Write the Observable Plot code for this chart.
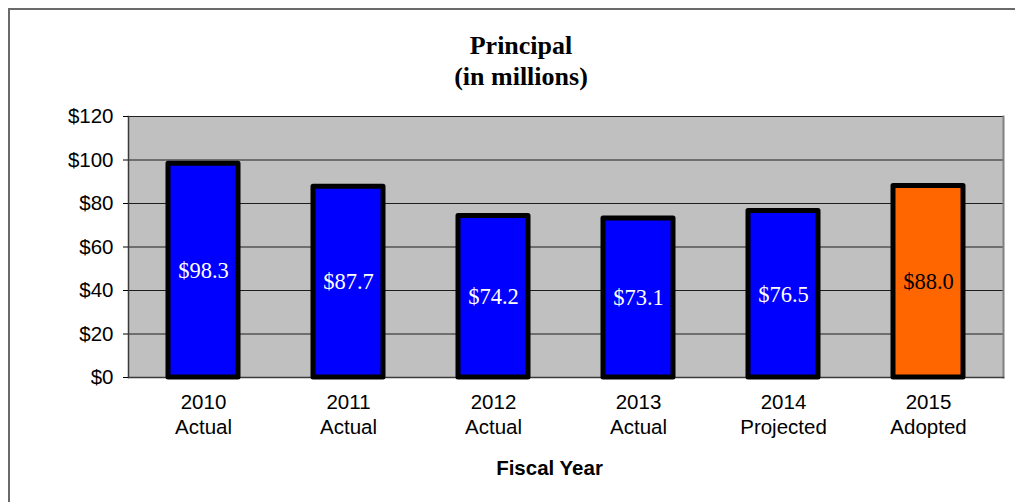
<!DOCTYPE html>
<html>
<head>
<meta charset="utf-8">
<script src="https://cdn.jsdelivr.net/npm/d3@7"></script>
<script src="https://cdn.jsdelivr.net/npm/@observablehq/plot@0.6"></script>
<style>
  html, body { margin: 0; padding: 0; background: #fff; }
  body { position: relative; width: 1015px; height: 502px; overflow: hidden; }
  #border { position: absolute; left: 8px; top: 8px; width: 2000px; height: 2000px;
    border-left: 2px solid #6a6a6a; border-top: 2px solid #6a6a6a; box-sizing: border-box; }
  #title { position: relative; height: 100px; width: 1042px; box-sizing: border-box; padding-top: 30px;
    text-align: center; font-family: "Liberation Serif", "Times New Roman", serif; font-weight: bold;
    font-size: 26px; line-height: 31px; color: #000; }
  #chart { position: relative; }
  #chart svg { display: block; }
</style>
</head>
<body>
<div id="border"></div>
<div id="title">Principal<br>(in millions)</div>
<div id="chart"></div>
<script>
const years = ["2010", "2011", "2012", "2013", "2014", "2015"];
const statuses = ["Actual", "Actual", "Actual", "Actual", "Projected", "Adopted"];
const values = [98.3, 87.7, 74.2, 73.1, 76.5, 88.0];
const yTicks = [0, 20, 40, 60, 80, 100, 120];

const data = years.map((y, i) => ({year: y, status: statuses[i], value: values[i]}));
const labelOf = Object.fromEntries(data.map(d => [d.year, d.year + "\n" + d.status]));
const isAdopted = d => d.status === "Adopted";

const chart = Plot.plot({
  width: 1015,
  height: 402,
  marginTop: 16,
  marginBottom: 125,
  marginLeft: 128,
  marginRight: 12,
  style: {fontFamily: "'Liberation Sans', Arial, sans-serif", background: "transparent"},
  x: {domain: years, paddingInner: 0.52, paddingOuter: 0.26, label: null},
  y: {domain: [0, 120], label: null},
  marks: [
    Plot.frame({fill: "#C0C0C0"}),
    Plot.ruleY(yTicks, {stroke: "#000", strokeWidth: 1, strokeOpacity: 0.85}),
    Plot.frame({anchor: "right", stroke: "#808080", strokeWidth: 2}),
    Plot.frame({anchor: "left", stroke: "#3a3a3a", strokeWidth: 1.5}),
    Plot.frame({anchor: "bottom", stroke: "#3a3a3a", strokeWidth: 1.5}),
    Plot.axisY({ticks: yTicks, tickFormat: d => "$" + d, tickSize: 5, tickPadding: 10,
      fontSize: 20.5, stroke: "#000", fill: "#000", label: null}),
    Plot.axisX({tickSize: 0, tickPadding: 14, fontSize: 20.5, lineHeight: 1.2,
      tickFormat: d => labelOf[d], fill: "#000", label: null}),
    Plot.barY(data, {x: "year", y: "value",
      fill: d => isAdopted(d) ? "#FF6600" : "#0000FF",
      stroke: "#000", strokeWidth: 5, strokeLinejoin: "round"}),
    Plot.text(data, {x: "year", y: d => d.value / 2,
      text: d => "$" + d.value.toFixed(1),
      fill: d => isAdopted(d) ? "#000" : "#fff",
      fontFamily: "'Liberation Serif', 'Times New Roman', serif", fontSize: 22.5}),
    Plot.text(["Fiscal Year"], {frameAnchor: "bottom", dy: 97, dx: -16.5,
      text: d => d, fontWeight: "bold", fontSize: 20.5, fill: "#000"})
  ]
});
document.getElementById("chart").appendChild(chart);
</script>
</body>
</html>
